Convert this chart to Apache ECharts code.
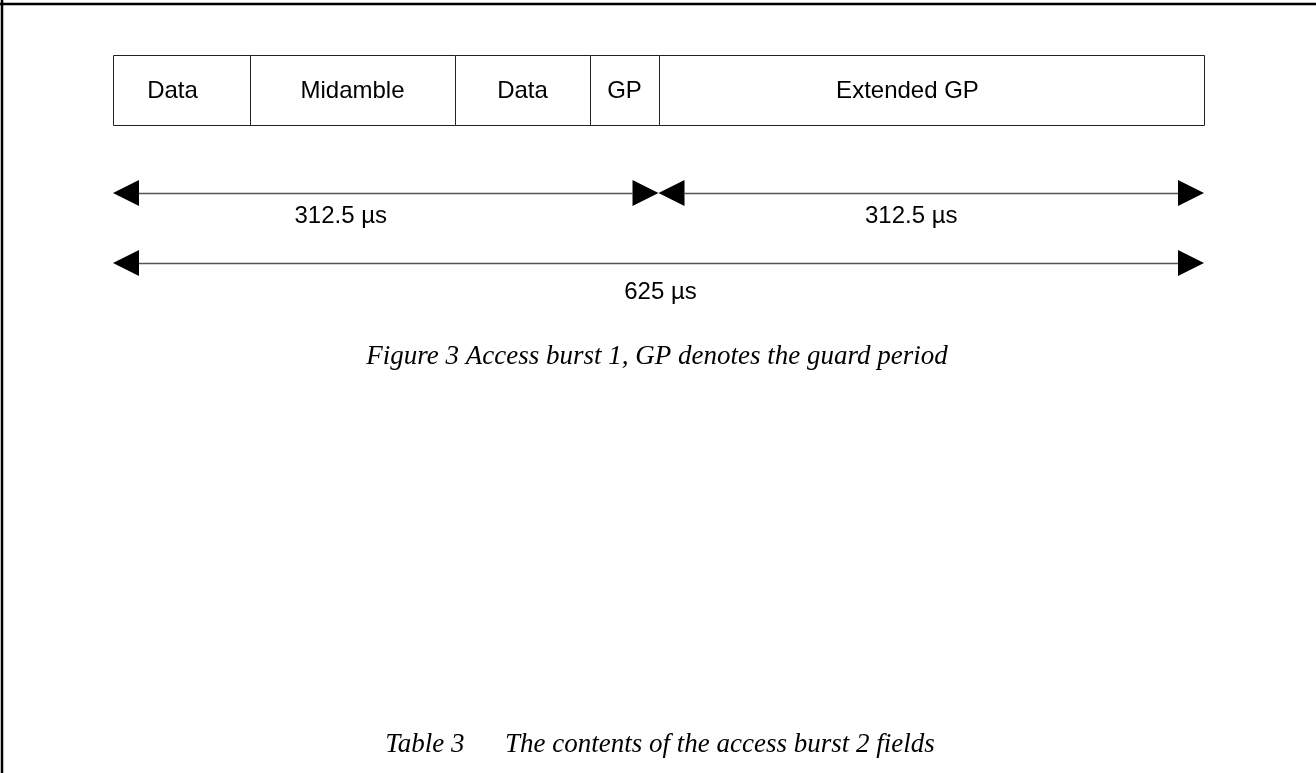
<!DOCTYPE html>
<html><head><meta charset="utf-8">
<script src="https://cdn.jsdelivr.net/npm/echarts@6/dist/echarts.min.js"></script>
<style>html,body{margin:0;padding:0;background:#fff}#c{width:1316px;height:773px}</style>
</head><body><div id="c"></div>
<script>
// Burst fields (label, duration in µs)
const fieldLabels = ['Data', 'Midamble', 'Data', 'GP', 'Extended GP'];
const fieldWidths = [78.5, 117.5, 77.5, 39, 312.5];
// Dimension arrows: [start, end]
const halfSpans = [[0, 312.5], [312.5, 625]];
const halfLabels = ['312.5 µs', '312.5 µs'];
const fullSpan = [[0, 625]];
const fullLabels = ['625 µs'];
const totalDuration = 625;
const figureCaption = 'Figure 3 Access burst 1, GP denotes the guard period';
const tableCaption = 'Table 3\u00a0\u00a0\u00a0\u00a0\u00a0\u00a0The contents of the access burst 2 fields';

// layout-only: horizontal label nudges in px
const fieldLabelShift = [-9, 0, 0, 0, -24];
const arrowLabelShift = [-45, -20, 2];

const fieldData = [];
let acc = 0;
fieldWidths.forEach((w, i) => { fieldData.push([acc, acc + w]); acc += w; });
const arrowData = halfSpans.map(s => [s[0], s[1], 0]).concat(fullSpan.map(s => [s[0], s[1], 1]));
const arrowLabels = halfLabels.concat(fullLabels);

const BOX_TOP = 55, BOX_H = 70;
const ROW_Y = [193, 263];
const LABEL_Y = [216, 292];
const HEAD_L = 26, HEAD_H = 13;
const SANS = '"Liberation Sans", Arial, Helvetica, sans-serif';
const SERIF = '"Liberation Serif", "Times New Roman", serif';

const chart = echarts.init(document.getElementById('c'), null, {renderer: 'canvas'});
chart.setOption({
  animation: false,
  grid: {left: 113, right: 112, top: 0, bottom: 0},
  xAxis: {type: 'value', min: 0, max: totalDuration, show: false},
  yAxis: {type: 'value', min: 0, max: 1, show: false},
  graphic: [
    {type: 'line', shape: {x1: 0, y1: 4, x2: 1316, y2: 4}, style: {stroke: '#000', lineWidth: 2.5}},
    {type: 'line', shape: {x1: 2, y1: 0, x2: 2, y2: 773}, style: {stroke: '#000', lineWidth: 2.5}},
    {type: 'text', style: {text: figureCaption, x: 657, y: 357, align: 'center', verticalAlign: 'middle', font: 'italic 27px ' + SERIF, fill: '#000'}},
    {type: 'text', style: {text: tableCaption, x: 660, y: 745, align: 'center', verticalAlign: 'middle', font: 'italic 27px ' + SERIF, fill: '#000'}}
  ],
  series: [
    {
      type: 'custom',
      data: fieldData,
      renderItem: function (params, api) {
        const x0 = Math.round(api.coord([api.value(0), 0])[0]);
        const x1 = Math.round(api.coord([api.value(1), 0])[0]);
        const i = params.dataIndex;
        return {
          type: 'group',
          children: [
            {type: 'rect', shape: {x: x0 + 0.5, y: BOX_TOP + 0.5, width: x1 - x0, height: BOX_H},
             style: {fill: '#fff', stroke: '#222', lineWidth: 1}},
            {type: 'text', style: {text: fieldLabels[i], x: (x0 + x1) / 2 + fieldLabelShift[i], y: BOX_TOP + BOX_H / 2 + 1,
              align: 'center', verticalAlign: 'middle', font: '24px ' + SANS, fill: '#000'}}
          ]
        };
      }
    },
    {
      type: 'custom',
      data: arrowData,
      renderItem: function (params, api) {
        const x0 = api.coord([api.value(0), 0])[0];
        const x1 = api.coord([api.value(1), 0])[0];
        const row = api.value(2);
        const y = ROW_Y[row];
        const i = params.dataIndex;
        return {
          type: 'group',
          children: [
            {type: 'line', shape: {x1: x0 + HEAD_L, y1: y + 0.5, x2: x1 - HEAD_L, y2: y + 0.5}, style: {stroke: '#555', lineWidth: 1.3}},
            {type: 'polygon', shape: {points: [[x0, y], [x0 + HEAD_L, y - HEAD_H], [x0 + HEAD_L, y + HEAD_H]]}, style: {fill: '#000'}},
            {type: 'polygon', shape: {points: [[x1, y], [x1 - HEAD_L, y - HEAD_H], [x1 - HEAD_L, y + HEAD_H]]}, style: {fill: '#000'}},
            {type: 'text', style: {text: arrowLabels[i], x: (x0 + x1) / 2 + arrowLabelShift[i], y: LABEL_Y[row], align: 'center', verticalAlign: 'middle',
              font: '24px ' + SANS, fill: '#000'}}
          ]
        };
      }
    }
  ]
});
</script></body></html>
